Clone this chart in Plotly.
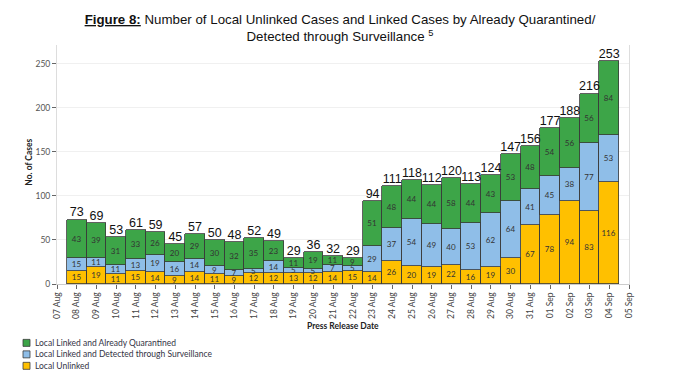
import plotly.graph_objects as go

dates = ["2020-08-08", "2020-08-09", "2020-08-10", "2020-08-11", "2020-08-12", "2020-08-13",
         "2020-08-14", "2020-08-15", "2020-08-16", "2020-08-17", "2020-08-18", "2020-08-19",
         "2020-08-20", "2020-08-21", "2020-08-22", "2020-08-23", "2020-08-24", "2020-08-25",
         "2020-08-26", "2020-08-27", "2020-08-28", "2020-08-29", "2020-08-30", "2020-08-31",
         "2020-09-01", "2020-09-02", "2020-09-03", "2020-09-04"]
unlinked = [15, 19, 11, 15, 14, 9, 14, 11, 9, 12, 12, 13, 12, 14, 15, 14, 26, 20, 19, 22, 16, 19,
            30, 67, 78, 94, 83, 116]
surveillance = [15, 11, 11, 13, 19, 16, 14, 9, 7, 5, 14, 5, 5, 7, 5, 29, 37, 54, 49, 40, 53, 62,
                64, 41, 45, 38, 77, 53]
quarantined = [43, 39, 31, 33, 26, 20, 29, 30, 32, 35, 23, 11, 19, 11, 9, 51, 48, 44, 44, 58, 44,
               43, 53, 48, 54, 56, 56, 84]
totals = [a + b + c for a, b, c in zip(unlinked, surveillance, quarantined)]

tick_dates = ["2020-08-07", "2020-08-08", "2020-08-09", "2020-08-10", "2020-08-11", "2020-08-12",
              "2020-08-13", "2020-08-14", "2020-08-15", "2020-08-16", "2020-08-17", "2020-08-18",
              "2020-08-19", "2020-08-20", "2020-08-21", "2020-08-22", "2020-08-23", "2020-08-24",
              "2020-08-25", "2020-08-26", "2020-08-27", "2020-08-28", "2020-08-29", "2020-08-30",
              "2020-08-31", "2020-09-01", "2020-09-02", "2020-09-03", "2020-09-04", "2020-09-05"]
tick_labels = ["07 Aug", "08 Aug", "09 Aug", "10 Aug", "11 Aug", "12 Aug", "13 Aug", "14 Aug",
               "15 Aug", "16 Aug", "17 Aug", "18 Aug", "19 Aug", "20 Aug", "21 Aug", "22 Aug",
               "23 Aug", "24 Aug", "25 Aug", "26 Aug", "27 Aug", "28 Aug", "29 Aug", "30 Aug",
               "31 Aug", "01 Sep", "02 Sep", "03 Sep", "04 Sep", "05 Sep"]
y_ticks = [0, 50, 100, 150, 200, 250]

series_names = ["Local Unlinked", "Local Linked and Detected through Surveillance",
                "Local Linked and Already Quarantined"]
colors = ["#FFC000", "#8FBEE8", "#3DA548"]

W, H = 680, 386
L, R, T, B = 57, 51, 45, 101.5
pw, ph = W - L - R, H - T - B

def px2paper(x, y):
    return (x - L) / pw, (H - B - y) / ph

TF = "Lato, 'Noto Sans', sans-serif"
AF = "'Liberation Sans', Arial, sans-serif"
DAY = 86400000

fig = go.Figure()
for name, vals, col in zip(series_names, [unlinked, surveillance, quarantined], colors):
    fig.add_trace(go.Bar(
        x=dates, y=vals, name=name, width=DAY,
        marker=dict(color=col, line=dict(color="#3a3a3a", width=0.8)),
        text=vals, textposition="inside", insidetextanchor="middle", textangle=0,
        textfont=dict(family=TF, size=8, color="#333333"),
        cliponaxis=False, showlegend=False,
    ))

fig.add_trace(go.Scatter(
    x=dates, y=totals, mode="text", text=[str(t) for t in totals],
    textposition="top center", textfont=dict(family=AF, size=12.5, color="#111111"),
    showlegend=False, hoverinfo="skip", cliponaxis=False,
))

fig.update_layout(
    width=W, height=H, barmode="stack", bargap=0,
    margin=dict(l=L, r=R, t=T, b=B, autoexpand=False),
    paper_bgcolor="white", plot_bgcolor="white",
    uniformtext=dict(mode="show", minsize=8),
    title=dict(
        text="<b><u>Figure 8:</u></b> Number of Local Unlinked Cases and Linked Cases by Already Quarantined/<br>Detected through Surveillance <sup>5</sup>",
        x=0.5, xref="container", xanchor="center",
        y=1 - 24 / H, yref="container", yanchor="top",
        font=dict(family=AF, size=13.3, color="#111111"),
    ),
    xaxis=dict(
        type="date", range=["2020-08-07", "2020-09-05"],
        tickmode="array", tickvals=tick_dates, ticktext=tick_labels, tickangle=-90,
        tickfont=dict(family=TF, size=8.5, color="#444444"),
        ticks="outside", ticklen=4, tickcolor="#666666",
        showline=True, linecolor="#cccccc", linewidth=1, showgrid=False, automargin=False,
    ),
    yaxis=dict(
        range=[0, 271], tickvals=y_ticks,
        tickfont=dict(family=TF, size=8.5, color="#555555"),
        ticks="outside", ticklen=4, tickcolor="#666666",
        showline=True, mirror=True, linecolor="#dddddd", linewidth=1,
        showgrid=True, gridcolor="#f0f0f0", zeroline=False, automargin=False,
    ),
)

# axis titles
ax, ay = px2paper(343, 327)
fig.add_annotation(xref="paper", yref="paper", x=ax, y=ay, xanchor="center", yanchor="middle",
                   text="<b>Press Release Date</b>", showarrow=False,
                   font=dict(family=TF, size=8.5, color="#222222"))
ax, ay = px2paper(29, 163)
fig.add_annotation(xref="paper", yref="paper", x=ax, y=ay, xanchor="center", yanchor="middle",
                   text="<b>No. of Cases</b>", showarrow=False, textangle=-90,
                   font=dict(family=TF, size=8.5, color="#222222"))

legend_rows = [(series_names[2], colors[2], 343.5), (series_names[1], colors[1], 355),
               (series_names[0], colors[0], 366.5)]
for name, col, cy in legend_rows:
    x0, y0 = px2paper(23, cy - 3.5)
    x1, y1 = px2paper(30, cy + 3.5)
    fig.add_shape(type="rect", xref="paper", yref="paper", x0=x0, x1=x1, y0=y1, y1=y0,
                  fillcolor=col, line=dict(color="#3a3a3a", width=0.8))
    tx, ty = px2paper(33, cy)
    fig.add_annotation(xref="paper", yref="paper", x=tx, y=ty, xanchor="left", yanchor="middle",
                       text=name, showarrow=False,
                       font=dict(family=TF, size=8.5, color="#333344"))

fig.write_html("out.html", config={"displayModeBar": False},
               post_script="document.body.style.margin='0';document.body.style.padding='0';")
